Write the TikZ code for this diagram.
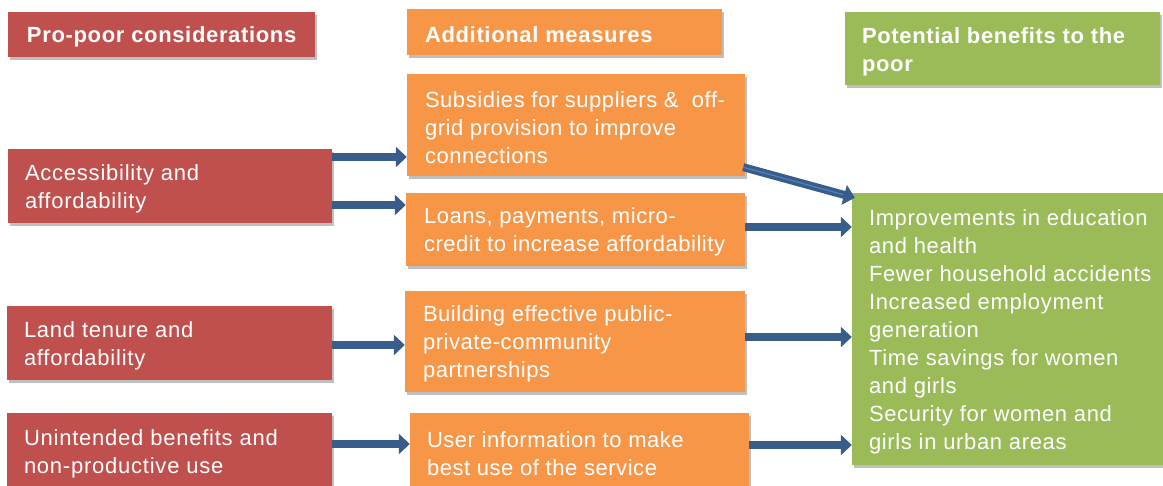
\documentclass[tikz,border=0pt]{standalone}
\usepackage{fontspec}
\setmainfont{Liberation Sans}
\newfontfamily\gfont[LetterSpace=3]{Liberation Sans}
\newfontfamily\ofont[LetterSpace=2.5]{Liberation Sans}
\newfontfamily\rfont[LetterSpace=3.5]{Liberation Sans}
\newfontfamily\hfont[LetterSpace=3]{Liberation Sans}
\usetikzlibrary{arrows.meta,shadows}
\definecolor{pred}{HTML}{C0504D}
\definecolor{porange}{HTML}{F79646}
\definecolor{pgreen}{HTML}{9BBB59}
\definecolor{ablue}{HTML}{385D8A}
\definecolor{ablight}{HTML}{4F81BD}
\begin{document}
\begin{tikzpicture}[x=1pt,y=-1pt,
  box/.style={draw=none, inner sep=0pt, drop shadow={shadow xshift=2pt, shadow yshift=-3pt, opacity=0.25, fill=black}},
  redbox/.style={box, fill=pred},
  orabox/.style={box, fill=porange},
  grnbox/.style={box, fill=pgreen},
  txt/.style={anchor=west, align=left, text=white, inner sep=0pt, yshift=-2.5pt, font=\rfont\fontsize{22}{28}\selectfont},
  otxt/.style={txt, font=\ofont\fontsize{22}{28}\selectfont},
  gtxt/.style={txt, font=\gfont\fontsize{22}{28}\selectfont},
  htxt/.style={txt, font=\hfont\bfseries\fontsize{22}{28}\selectfont},
  arr/.style={draw=ablue, line width=8pt, -{Triangle[width=20pt,length=11pt]}}
]
\clip (0,0) rectangle (1163,486);
\fill[white] (0,0) rectangle (1163,486);

% headers
\node[redbox, minimum width=307pt, minimum height=45pt] (hr) at (161.5,34.5) {};
\node[htxt] (hr-t) at ([xshift=19pt]hr.west) {Pro-poor considerations};
\node[orabox, minimum width=315pt, minimum height=46pt] (ho) at (564.5,32) {};
\node[htxt] (ho-t) at ([xshift=18pt]ho.west) {Additional measures};
\node[grnbox, minimum width=315pt, minimum height=73pt] (hg) at (1002.5,48.5) {};
\node[htxt] (hg-t) at ([xshift=17pt,yshift=-1pt]hg.west) {Potential benefits to the\\poor};

% left column
\node[redbox, minimum width=324pt, minimum height=74pt] (acc) at (170,186) {};
\node[txt] (acc-t) at ([xshift=17pt]acc.west) {Accessibility and\\affordability};
\node[redbox, minimum width=325pt, minimum height=74pt] (land) at (169.5,343) {};
\node[txt] (land-t) at ([xshift=17pt]land.west) {Land tenure and\\affordability};
\node[redbox, minimum width=325pt, minimum height=76pt] (unint) at (169.5,451) {};
\node[txt] (unint-t) at ([xshift=17pt]unint.west) {Unintended benefits and\\non-productive use};

% middle column
\node[orabox, minimum width=338pt, minimum height=102pt] (sub) at (576,125) {};
\node[otxt] (sub-t) at ([xshift=18pt]sub.west) {Subsidies for suppliers \&\ \ off-\\grid provision to improve\\connections};
\node[orabox, minimum width=339pt, minimum height=73pt] (loans) at (575.5,229.5) {};
\node[otxt] (loans-t) at ([xshift=18pt]loans.west) {Loans, payments, micro-\\credit to increase affordability};
\node[orabox, minimum width=340pt, minimum height=101pt] (build) at (575,341.5) {};
\node[otxt] (build-t) at ([xshift=18pt]build.west) {Building effective public-\\private-community\\partnerships};
\node[orabox, minimum width=339pt, minimum height=76pt] (user) at (579.5,451) {};
\node[otxt] (user-t) at ([xshift=17pt]user.west) {User information to make\\best use of the service};

% right column
\node[grnbox, minimum width=311pt, minimum height=272pt] (green) at (1007.5,329) {};
\node[gtxt] (green-t) at ([xshift=17pt]green.west) {Improvements in education\\and health\\Fewer household accidents\\Increased employment\\generation\\Time savings for women\\and girls\\Security for women and\\girls in urban areas};

% arrows
\draw[arr] ([yshift=29pt]acc.east) -- ([yshift=29pt]acc.east -| sub.west);
\draw[arr] ([yshift=-19pt]acc.east) -- ([yshift=-19pt]acc.east -| loans.west);
\draw[arr] ([yshift=-2pt]land.east) -- ([yshift=-2pt]land.east -| build.west);
\draw[arr] ([yshift=7pt]unint.east) -- ([yshift=7pt]unint.east -| user.west);
\draw[arr] ([xshift=-2pt,yshift=9pt]sub.south east) -- ([xshift=3pt,yshift=-5pt]green.north west);
\draw[ablight, line width=1.2pt, shorten >=12pt] ([xshift=-2pt,yshift=9pt]sub.south east) -- ([xshift=3pt,yshift=-5pt]green.north west);
\draw[arr] ([yshift=2.5pt]loans.east) -- ([yshift=2.5pt]loans.east -| green.west);
\draw[arr] ([yshift=4.5pt]build.east) -- ([yshift=4.5pt]build.east -| green.west);
\draw[arr] ([yshift=6pt]user.east) -- ([yshift=6pt]user.east -| green.west);
\end{tikzpicture}
\end{document}
